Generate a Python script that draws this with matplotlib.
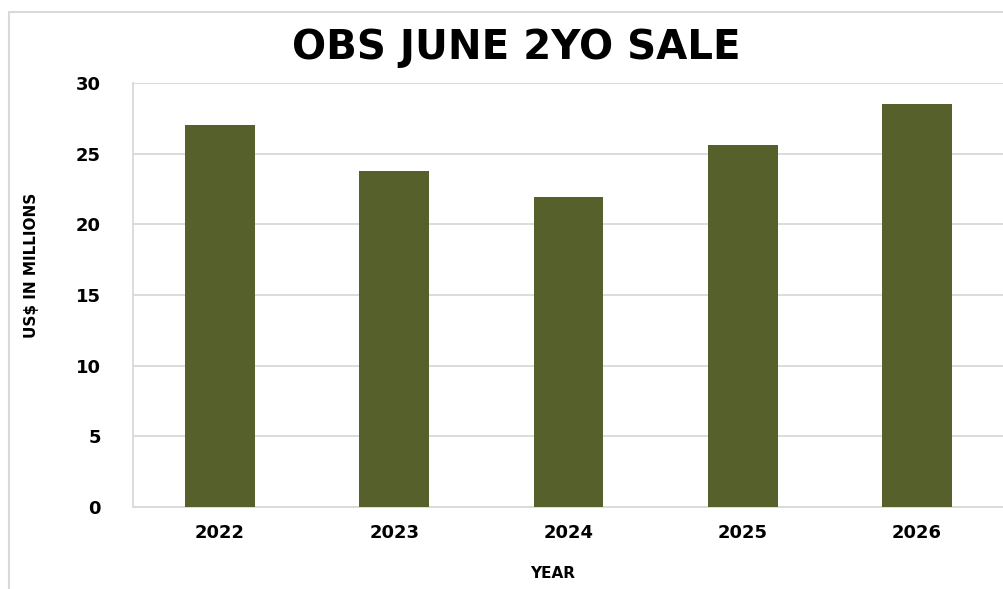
import matplotlib.pyplot as plt
from matplotlib.patches import Rectangle

years = ["2022", "2023", "2024", "2025", "2026"]
sales = [27.0, 23.8, 21.9, 25.6, 28.5]
yticks = [0, 5, 10, 15, 20, 25, 30]

W, H = 1004, 589
fig = plt.figure(figsize=(W / 100, H / 100), dpi=100)
ax = fig.add_axes([133 / W, (H - 507) / H, 1 - 133 / W, (507 - 83) / H])

# 外枠（右と下ははみ出している）
fig.patches.append(Rectangle((9 / W, -0.05), 1.1, (H - 12) / H + 0.05,
                             transform=fig.transFigure, fill=False,
                             edgecolor="#d9d9d9", linewidth=1.5))

x = range(len(years))
ax.bar(x, sales, width=0.4, color="#56602a", zorder=3)
ax.set_xlim(-0.5, 4.5)
ax.set_ylim(0, 30)
ax.set_yticks(yticks)
ax.set_xticks(list(x))
ax.set_xticklabels(years)
ax.grid(axis="y", color="#d9d9d9", linewidth=1.3, zorder=0)
for s in ["top", "right"]:
    ax.spines[s].set_visible(False)
for s in ["left", "bottom"]:
    ax.spines[s].set_color("#d9d9d9")
    ax.spines[s].set_linewidth(1.3)
ax.tick_params(length=0, labelsize=13)
ax.tick_params(axis="y", pad=23)
ax.tick_params(axis="x", pad=12)
for lab in ax.get_xticklabels() + ax.get_yticklabels():
    lab.set_fontweight("bold")

fig.text(516 / W, (H - 48) / H, "OBS JUNE 2YO SALE", ha="center", va="center",
         fontsize=29, fontweight="bold")
fig.text(32 / W, (H - 265) / H, "US$ IN MILLIONS", rotation=90, ha="center",
         va="center", fontsize=11, fontweight="bold")
fig.text(553 / W, (H - 574) / H, "YEAR", ha="center", va="center",
         fontsize=11, fontweight="bold")

fig.savefig("out.png", dpi=100)
